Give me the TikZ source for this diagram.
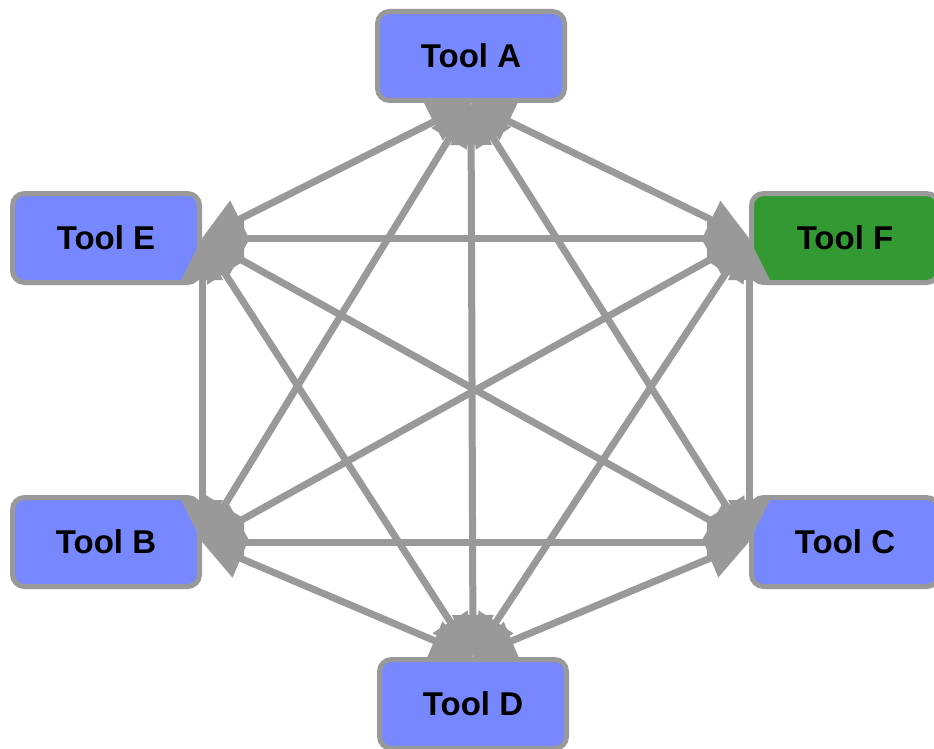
\documentclass[tikz,border=0pt]{standalone}
\usepackage{fontspec}
\setmainfont{Liberation Sans}
\usetikzlibrary{arrows.meta}
\definecolor{edgegray}{RGB}{153,153,153}
\definecolor{toolblue}{RGB}{119,136,255}
\definecolor{toolgreen}{RGB}{51,153,51}
\begin{document}
\begin{tikzpicture}[x=1pt,y=-1pt,
  tool/.style={draw=edgegray, line width=5pt, fill=toolblue, rounded corners=12pt,
    minimum width=187pt, minimum height=89pt, inner sep=0pt,
    font=\fontsize{33}{39}\selectfont\bfseries, text=black},
  edge/.style={line width=7pt, draw=edgegray,
    {Triangle[length=42pt,width=40pt]}-{Triangle[length=42pt,width=40pt]}}]
\useasboundingbox (0,0) rectangle (934,749);
\node[tool] (A) at (471,56) {Tool A};
\node[tool] (E) at (106,238) {Tool E};
\node[tool, fill=toolgreen] (F) at (845,238) {Tool F};
\node[tool] (B) at (106,542) {Tool B};
\node[tool] (C) at (845,542) {Tool C};
\node[tool] (D) at (473,704) {Tool D};
\draw[edge] (A.south) -- (E.east);
\draw[edge] (A.south) -- (F.west);
\draw[edge] (A.south) -- (B.east);
\draw[edge] (A.south) -- (C.west);
\draw[edge] (A.south) -- (D.north);
\draw[edge] (E.east) -- (F.west);
\draw[edge] (E.east) -- (B.east);
\draw[edge] (E.east) -- (C.west);
\draw[edge] (E.east) -- (D.north);
\draw[edge] (F.west) -- (B.east);
\draw[edge] (F.west) -- (C.west);
\draw[edge] (F.west) -- (D.north);
\draw[edge] (B.east) -- (C.west);
\draw[edge] (B.east) -- (D.north);
\draw[edge] (C.west) -- (D.north);
\end{tikzpicture}
\end{document}
